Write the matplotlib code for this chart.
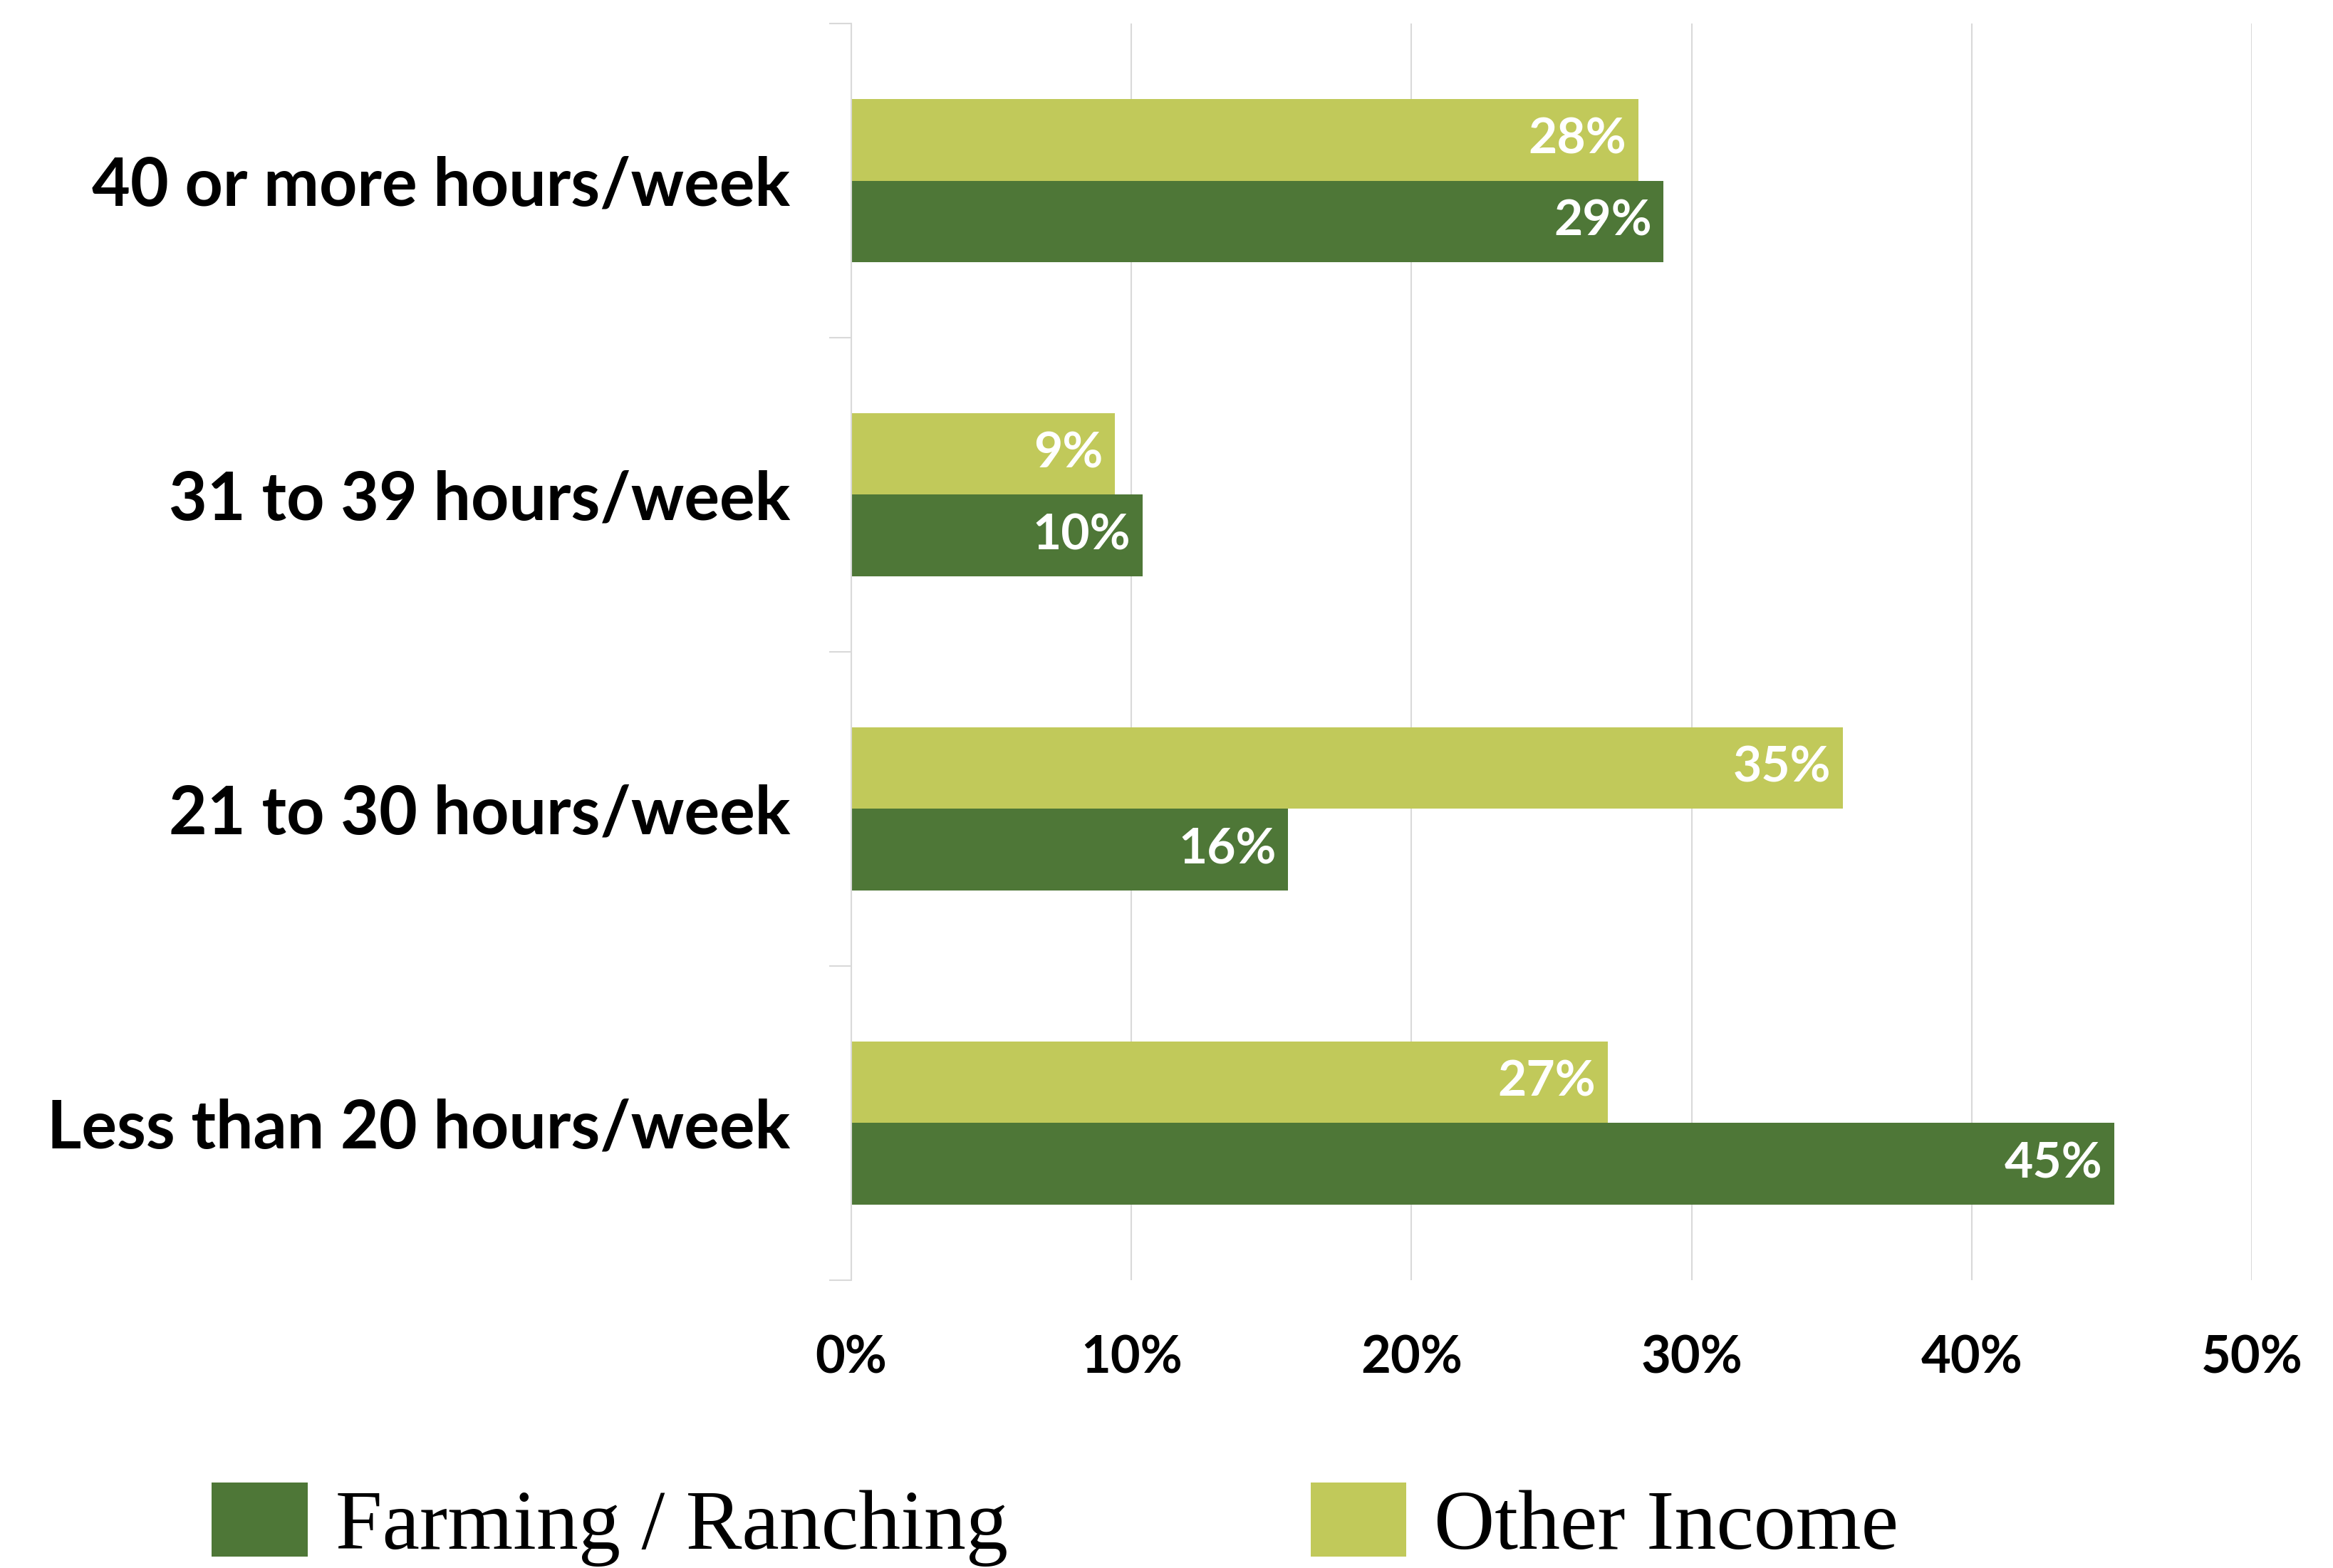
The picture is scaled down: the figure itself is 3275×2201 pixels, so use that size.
import numpy as np
import matplotlib
matplotlib.use("Agg")
import matplotlib.pyplot as plt
from matplotlib.patches import Patch

# Survey data: share of respondents by hours worked per week
categories = ['40 or more hours/week', '31 to 39 hours/week',
              '21 to 30 hours/week', 'Less than 20 hours/week']
farming = [29.0, 10.4, 15.6, 45.1]
other_income = [28.1, 9.4, 35.4, 27.0]
series_names = ['Farming / Ranching', 'Other Income']
xticks = [0, 10, 20, 30, 40, 50]

farm_color = '#4E7737'
other_color = '#C1C95A'
grid_color = '#D9D9D9'

plt.rcParams['font.family'] = ['Lato', 'DejaVu Sans']

fig = plt.figure(figsize=(32.75, 22.01), dpi=100)
ax = fig.add_axes([0.3649, 0.1836, 0.6003, 0.8014])

y = np.arange(len(categories))
h = 0.26
bars_other = ax.barh(y - h / 2, other_income, height=h, color=other_color)
bars_farm = ax.barh(y + h / 2, farming, height=h, color=farm_color)

# value labels inside the bar ends
for bars, vals in [(bars_other, other_income), (bars_farm, farming)]:
    for b, v in zip(bars, vals):
        ax.annotate(f'{v:.0f}%', xy=(b.get_width(), b.get_y() + b.get_height() / 2),
                    xytext=(-12, 0), textcoords='offset points',
                    ha='right', va='center', color='white',
                    fontsize=50, fontweight='bold')

ax.set_xlim(0, 50)
ax.set_ylim(len(categories) - 0.5, -0.5)

ax.set_xticks(xticks)
ax.set_xticklabels([f'{t}%' for t in xticks], fontsize=52, fontweight='bold')
ax.tick_params(axis='x', length=0, pad=55)

ax.set_yticks(y)
ax.set_yticklabels(categories, fontsize=67, fontweight='bold')
ax.set_yticks(np.arange(len(categories) + 1) - 0.5, minor=True)
ax.tick_params(axis='y', which='major', length=0, pad=62)
ax.tick_params(axis='y', which='minor', length=22, width=1.5, color=grid_color)

ax.grid(axis='x', color=grid_color, linewidth=1.5)
ax.set_axisbelow(True)
for side in ['top', 'right', 'bottom']:
    ax.spines[side].set_visible(False)
ax.spines['left'].set_color(grid_color)
ax.spines['left'].set_linewidth(1.5)

handles = [Patch(facecolor=farm_color), Patch(facecolor=other_color)]
fig.legend(handles, series_names, loc='lower left', bbox_to_anchor=(0.0763, -0.0205),
           ncol=2, frameon=False, handlelength=1.14, handleheight=0.98,
           handletextpad=0.33, columnspacing=3.6, borderaxespad=0,
           prop={'family': 'Liberation Serif', 'size': 85})

fig.savefig('out.png', dpi=100)
